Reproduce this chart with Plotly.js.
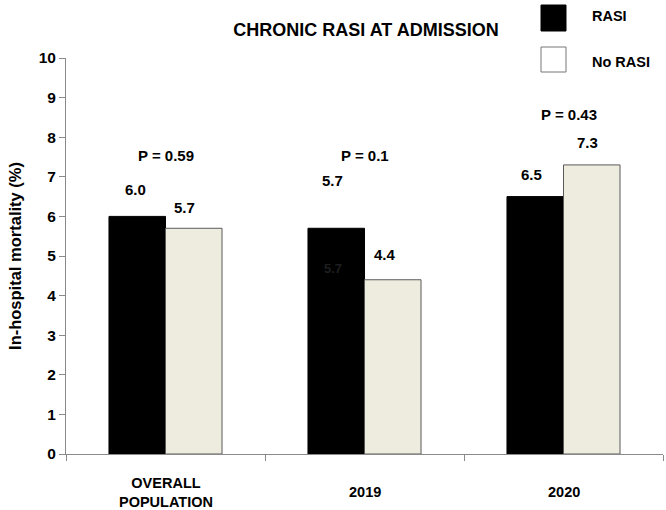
<!DOCTYPE html>
<html>
<head>
<meta charset="utf-8">
<script src="https://cdn.plot.ly/plotly-3.0.1.min.js"></script>
<style>html,body{margin:0;padding:0;background:#fff;}#chart{width:666px;height:510px;}</style>
</head>
<body>
<div id="chart"></div>
<script>
// ---- data ----
const categories = ["OVERALL POPULATION", "2019", "2020"];
const categoryLabels = ["OVERALL<br>POPULATION", "2019", "2020"];
const seriesNames = ["RASI", "No RASI"];
const rasiValues = [6.0, 5.7, 6.5];
const noRasiValues = [5.7, 4.4, 7.3];
const pValues = ["P = 0.59", "P = 0.1", "P = 0.43"];
const yTickValues = [0, 1, 2, 3, 4, 5, 6, 7, 8, 9, 10];
const chartTitle = "CHRONIC RASI AT ADMISSION";
const yTitle = "In-hospital mortality (%)";

// ---- style / positioning (not data) ----
const FONT = "Liberation Sans, Arial, sans-serif";
const W = 666, H = 510;
const M = {l: 66, r: 3, t: 58, b: 56};
const PW = W - M.l - M.r, PH = H - M.t - M.b;
const px2x = px => (px - M.l) / PW;
const py2y = py => (H - M.b - py) / PH;
const rasiLabelShift = [27, 48, 22];
const noRasiLabelShift = [21, 25, 22];
const rasiLabelDx = [-2, -4, -4];
const noRasiLabelDx = [-9, -8, -4];
const pShiftY = [155, 155, 114];
const pShiftDx = [0, 0, 5];

const xCats = categories.map((c, i) => i);

const traces = [
  {type: "bar", name: seriesNames[0], x: categories, y: rasiValues,
   marker: {color: "#000000", line: {color: "#000000", width: 1}}, showlegend: false, hoverinfo: "none"},
  {type: "bar", name: seriesNames[1], x: categories, y: noRasiValues,
   marker: {color: "#eeebdf", line: {color: "#5a5a5a", width: 1}}, showlegend: false, hoverinfo: "none"}
];

const annotations = [];
const lblFont = {family: FONT, size: 15, color: "#000"};
categories.forEach((c, i) => {
  annotations.push({xref: "x", yref: "y", x: xCats[i], y: rasiValues[i], text: "<b>" + rasiValues[i].toFixed(1) + "</b>",
    showarrow: false, xshift: -28 + rasiLabelDx[i], yshift: rasiLabelShift[i], font: lblFont});
  annotations.push({xref: "x", yref: "y", x: xCats[i], y: noRasiValues[i], text: "<b>" + noRasiValues[i].toFixed(1) + "</b>",
    showarrow: false, xshift: 28 + noRasiLabelDx[i], yshift: noRasiLabelShift[i], font: lblFont});
  annotations.push({xref: "x", yref: "paper", x: xCats[i], y: py2y(pShiftY[i]), text: "<b>" + pValues[i] + "</b>",
    showarrow: false, xshift: pShiftDx[i], yanchor: "middle", font: lblFont});
  annotations.push({xref: "x", yref: "paper", x: xCats[i], y: py2y(492), text: "<b>" + categoryLabels[i] + "</b>",
    showarrow: false, yanchor: "middle", font: {family: FONT, size: 14.5, color: "#000"}});
});
// faint ghost label inside the 2019 RASI bar
annotations.push({xref: "x", yref: "y", x: xCats[1], y: rasiValues[1], text: "<b>" + rasiValues[1].toFixed(1) + "</b>",
  showarrow: false, xshift: -32, yshift: -40, font: {family: FONT, size: 13, color: "#1e1e1e"}});

// custom legend
const shapes = [];
const legendRows = [{y0: 5, y1: 31, fill: "#000000", line: "#000000", ty: 16},
                    {y0: 47, y1: 72, fill: "#ffffff", line: "#777777", ty: 62}];
legendRows.forEach((r, i) => {
  shapes.push({type: "rect", xref: "paper", yref: "paper", x0: px2x(541), x1: px2x(566),
    y0: py2y(r.y1), y1: py2y(r.y0), fillcolor: r.fill, line: {color: r.line, width: 1}});
  annotations.push({xref: "paper", yref: "paper", x: px2x(590), y: py2y(r.ty), xanchor: "left", yanchor: "middle",
    text: "<b>" + seriesNames[i] + "</b>", showarrow: false, font: {family: FONT, size: 14.5, color: "#000"}});
});

const layout = {
  width: W, height: H,
  margin: M,
  paper_bgcolor: "#fff", plot_bgcolor: "#fff",
  font: {family: FONT, color: "#000"},
  barmode: "group", bargap: 0.432, bargroupgap: 0,
  title: {text: "<b>" + chartTitle + "</b>", x: 366 / W, xanchor: "center", y: 1 - 30 / H, yanchor: "middle",
          yref: "container", font: {family: FONT, size: 18, color: "#000"}},
  xaxis: {type: "category", range: [-0.5, 2.5], autorange: false, showline: true, linecolor: "#8a8a8a", linewidth: 1,
          ticks: "outside", tickson: "boundaries", ticklen: 6, tickcolor: "#8a8a8a", showticklabels: false,
          showgrid: false, zeroline: false, fixedrange: true},
  yaxis: {range: [0, 10], autorange: false, tickmode: "array", tickvals: yTickValues,
          ticktext: yTickValues.map(v => "<b>" + v + "</b>"),
          showline: true, linecolor: "#8a8a8a", linewidth: 1,
          ticks: "outside", ticklen: 6, tickcolor: "#8a8a8a", showgrid: false, zeroline: false,
          tickfont: {family: FONT, size: 15.5, color: "#000"},
          title: {text: "<b>" + yTitle + "</b>", standoff: 12, font: {family: FONT, size: 16.5, color: "#000"}},
          fixedrange: true},
  annotations: annotations,
  shapes: shapes,
  showlegend: false
};

Plotly.newPlot("chart", traces, layout, {displayModeBar: false, staticPlot: true});
</script>
</body>
</html>
